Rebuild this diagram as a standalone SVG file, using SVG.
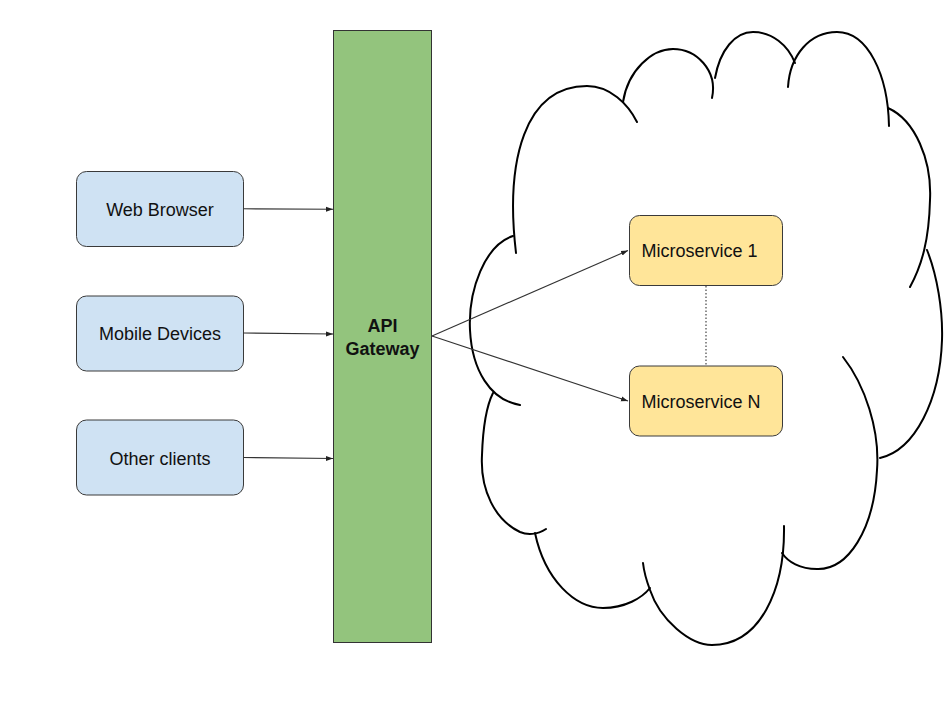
<svg xmlns="http://www.w3.org/2000/svg" width="952" height="714" viewBox="0 0 952 714">
<style>
  .client rect { fill: #cfe2f3; stroke: #3a3a3a; stroke-width: 1; }
  .svc rect { fill: #ffe599; stroke: #3a3a3a; stroke-width: 1; }
  .lbl { font-family: "Liberation Sans", Arial, sans-serif; font-size: 18px; fill: #111; }
  .bold { font-weight: bold; }
  .cloud path { fill: none; stroke: #000; stroke-width: 2; stroke-linecap: round; }
  .conn line { stroke: #333; stroke-width: 1.1; }
</style>
<defs>
  <marker id="arr" markerUnits="userSpaceOnUse" markerWidth="8" markerHeight="6" refX="7" refY="3" orient="auto">
    <path d="M0,0.5 L7,3 L0,5.5 Z" fill="#222"/>
  </marker>
</defs>
<rect width="952" height="714" fill="#fff"/>

<g id="cloud" class="cloud">
  <path d="M516,253 C505,160 525,86 587,86 C610,86 628,104 637,122"/>
  <path d="M623,102 C628,70 652,49 673,49 C696,49 718,70 712,98"/>
  <path d="M715,78 C720,50 735,32 753,32 C772,32 788,45 795,63"/>
  <path d="M788,87 C790,55 810,32 837,32 C868,32 888,75 889,126"/>
  <path d="M888,108 C915,120 932,160 930,200 C929,240 922,265 910,287"/>
  <path d="M927,250 C937,275 943,310 942,340 C940,400 915,450 880,458"/>
  <path d="M843,357 C865,385 880,430 877,470 C874,530 848,570 817,569 C800,569 788,562 782,553"/>
  <path d="M784,526 C785,590 760,645 712,645 C690,645 660,620 650,590 C647,582 644,572 643,563"/>
  <path d="M535,533 C545,580 575,608 603,608 C625,608 642,598 650,588"/>
  <path d="M546,529 C537,535 527,535 520,532 C495,520 480,490 482,455 C483,425 487,405 493,393"/>
  <path d="M513,236 C485,245 468,290 470,330 C472,370 490,400 520,405"/>
</g>

<g id="gateway">
  <rect x="333.5" y="30.5" width="98" height="612" fill="#93c47d" stroke="#333" stroke-width="1"/>
  <text class="lbl bold" x="382.5" y="332" text-anchor="middle">API</text>
  <text class="lbl bold" x="382.5" y="355" text-anchor="middle">Gateway</text>
</g>

<g id="web-browser" class="client">
  <rect x="76.5" y="171.5" width="167" height="75" rx="10"/>
  <text class="lbl" x="160" y="215.5" text-anchor="middle">Web Browser</text>
</g>
<g id="mobile-devices" class="client">
  <rect x="76.5" y="296" width="167" height="75" rx="10"/>
  <text class="lbl" x="160" y="340" text-anchor="middle">Mobile Devices</text>
</g>
<g id="other-clients" class="client">
  <rect x="76.5" y="420" width="167" height="75" rx="10"/>
  <text class="lbl" x="160" y="464.5" text-anchor="middle">Other clients</text>
</g>

<g id="microservice-1" class="svc">
  <rect x="629.5" y="215.5" width="153" height="70" rx="10"/>
  <text class="lbl" x="641.5" y="256.5">Microservice 1</text>
</g>
<g id="microservice-n" class="svc">
  <rect x="629.5" y="366" width="153" height="70" rx="10"/>
  <text class="lbl" x="641.5" y="407.5">Microservice N</text>
</g>

<g id="connectors" class="conn">
  <line x1="243.5" y1="208.8" x2="333" y2="209.3" marker-end="url(#arr)"/>
  <line x1="243.5" y1="333" x2="333" y2="334" marker-end="url(#arr)"/>
  <line x1="243.5" y1="457.5" x2="333" y2="458.5" marker-end="url(#arr)"/>
  <line x1="432" y1="336" x2="628" y2="250.5" marker-end="url(#arr)"/>
  <line x1="432" y1="336" x2="628" y2="401" marker-end="url(#arr)"/>
  <line x1="706" y1="286" x2="706" y2="366" stroke="#666" stroke-width="1" stroke-dasharray="1.5,2"/>
</g>
</svg>
